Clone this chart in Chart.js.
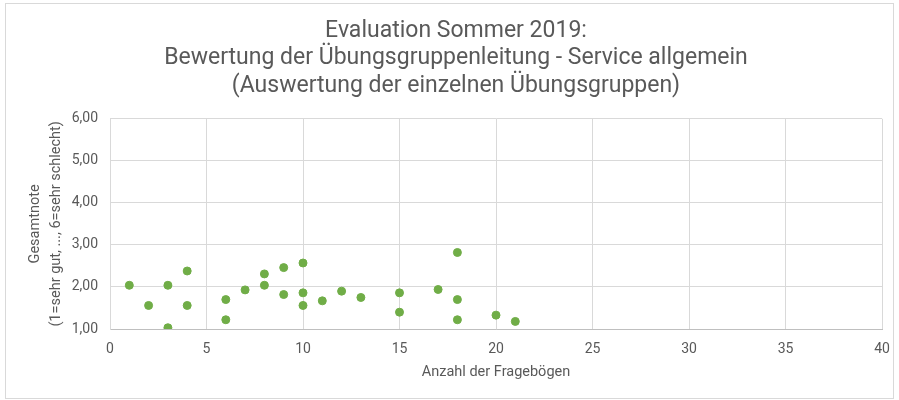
<!DOCTYPE html>
<html>
<head>
<meta charset="utf-8">
<script src="https://cdn.jsdelivr.net/npm/chart.js@4"></script>
<style>
  body { margin: 0; background: #fff; }
  #box { position: absolute; left: 5px; top: 3px; width: 887px; height: 394px; border: 1px solid #d9d9d9; }
</style>
</head>
<body>
<div id="box"><canvas id="scatterChart"></canvas></div>
<script>
// Anzahl der Fragebögen je Übungsgruppe
var anzahl = [1, 2, 3, 3, 4, 4, 6, 6, 7, 8, 8, 9, 9, 10, 10, 10, 11, 12, 13, 15, 15, 17, 18, 18, 18, 20, 21];
// Gesamtnote je Übungsgruppe
var note = [2.04, 1.56, 2.04, 1.03, 2.38, 1.56, 1.70, 1.22, 1.93, 2.31, 2.04, 2.46, 1.82, 2.57, 1.86, 1.56, 1.67, 1.90, 1.75, 1.86, 1.40, 1.94, 2.82, 1.70, 1.22, 1.33, 1.18];

var titelZeilen = ['Evaluation Sommer 2019:', 'Bewertung der Übungsgruppenleitung - Service allgemein', '(Auswertung der einzelnen Übungsgruppen)'];
var xTitel = 'Anzahl der Fragebögen';
var yTitel = ['Gesamtnote', '(1=sehr gut, ..., 6=sehr schlecht)'];

var punkte = [];
for (var i = 0; i < anzahl.length; i++) {
    punkte.push({ x: anzahl[i], y: note[i] });
}

var grau = '#595959';
Chart.defaults.font.family = 'Roboto, "Liberation Sans", sans-serif';
Chart.defaults.color = grau;

var ctx = document.getElementById('scatterChart');
var chart = new Chart(ctx, {
    type: 'scatter',
    data: {
        datasets: [{
            data: punkte,
            backgroundColor: '#70AD47',
            borderColor: '#70AD47',
            pointRadius: 4,
            pointHoverRadius: 4
        }]
    },
    options: {
        responsive: true,
        maintainAspectRatio: false,
        animation: false,
        layout: { padding: { left: 24, right: 11, top: 0, bottom: 0 } },
        plugins: {
            legend: { display: false },
            tooltip: { enabled: false },
            title: {
                display: true,
                text: titelZeilen,
                color: grau,
                font: { size: 23, weight: 'normal', lineHeight: 1.2 },
                padding: { top: 13, bottom: 19 }
            }
        },
        scales: {
            x: {
                type: 'linear',
                min: 0,
                max: 40,
                ticks: { stepSize: 5, color: grau, font: { size: 14 }, padding: 12 },
                grid: { color: '#d9d9d9', drawTicks: false },
                border: { color: '#bfbfbf' },
                title: { display: true, text: xTitel, color: grau, font: { size: 14.5, lineHeight: 1.2 }, padding: { top: 0, bottom: 17 } },
                afterFit: function (scale) {
                    scale.height = 69;
                    scale.paddingRight = 0;
                }
            },
            y: {
                min: 1,
                max: 6,
                ticks: {
                    stepSize: 1,
                    color: grau,
                    font: { size: 14 },
                    padding: 12,
                    callback: function (v) { return v.toFixed(2).replace('.', ','); }
                },
                grid: { color: '#d9d9d9', drawTicks: false },
                border: { color: '#d9d9d9' },
                title: { display: true, text: yTitel, color: grau, font: { size: 14.5, lineHeight: 1.5 }, padding: { top: -6, bottom: 0 } },
                afterFit: function (scale) { scale.width = 80; }
            }
        }
    }
});
</script>
</body>
</html>
